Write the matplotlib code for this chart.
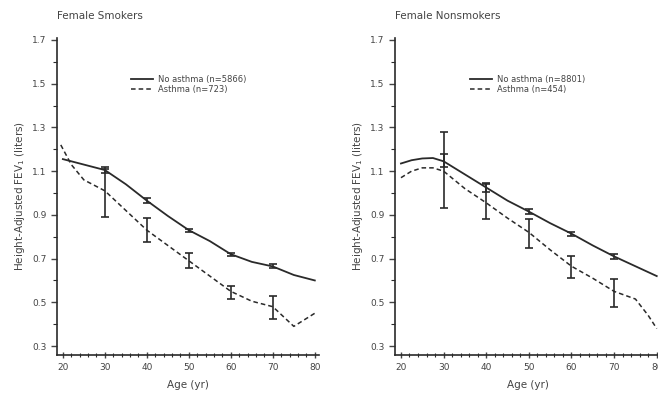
import numpy as np
import matplotlib
matplotlib.use("Agg")
import matplotlib.pyplot as plt
from matplotlib.ticker import MultipleLocator

# ── data ──────────────────────────────────────────────────────────────────
# Female smokers
SM_NO_AGE = [20, 25, 30, 35, 40, 45, 50, 55, 60, 65, 70, 75, 80]
SM_NO_FEV = [1.155, 1.13, 1.105, 1.04, 0.965, 0.895, 0.83, 0.78, 0.72, 0.685, 0.664, 0.625, 0.60]
SM_AS_AGE = [19.5, 22, 25, 28, 30, 35, 40, 45, 50, 55, 60, 65, 70, 75, 80]
SM_AS_FEV = [1.22, 1.13, 1.06, 1.03, 1.01, 0.92, 0.83, 0.76, 0.69, 0.62, 0.55, 0.505, 0.48, 0.39, 0.45]
SM_NO_ERR_LO = [1.09, 0.955, 0.82, 0.71, 0.655]
SM_NO_ERR_HI = [1.12, 0.975, 0.835, 0.725, 0.673]
SM_AS_ERR_LO = [0.89, 0.775, 0.655, 0.515, 0.425]
SM_AS_ERR_HI = [1.11, 0.885, 0.725, 0.575, 0.53]

# Female nonsmokers
NS_NO_AGE = [20, 22.5, 25, 27.5, 30, 35, 40, 45, 50, 55, 60, 65, 70, 75, 80]
NS_NO_FEV = [1.135, 1.15, 1.158, 1.16, 1.145, 1.085, 1.025, 0.965, 0.915, 0.862, 0.814, 0.76, 0.71, 0.665, 0.62]
NS_AS_AGE = [20, 22.5, 25, 27.5, 30, 35, 40, 45, 50, 55, 60, 65, 70, 75, 78, 80]
NS_AS_FEV = [1.07, 1.10, 1.115, 1.115, 1.10, 1.02, 0.955, 0.885, 0.82, 0.74, 0.665, 0.61, 0.55, 0.515, 0.44, 0.38]
NS_NO_ERR_LO = [1.12, 1.005, 0.905, 0.805, 0.70]
NS_NO_ERR_HI = [1.18, 1.045, 0.925, 0.822, 0.72]
NS_AS_ERR_LO = [0.93, 0.88, 0.75, 0.61, 0.48]
NS_AS_ERR_HI = [1.28, 1.04, 0.88, 0.71, 0.605]

ERR_AGE = [30, 40, 50, 60, 70]
Y_MAJOR = [0.3, 0.5, 0.7, 0.9, 1.1, 1.3, 1.5, 1.7]
Y_MINOR = [0.4, 0.6, 0.8, 1.0, 1.2, 1.4, 1.6]
TITLES = ["Female Smokers", "Female Nonsmokers"]
LEG_NO = ["No asthma (n=5866)", "No asthma (n=8801)"]
LEG_AS = ["Asthma (n=723)", "Asthma (n=454)"]

INK = "#2a2a2a"
TXT = "#444444"
plt.rcParams["font.family"] = ["DejaVu Sans"]

fig = plt.figure(figsize=(6.58, 3.96), dpi=100)
ax_l = fig.add_axes([57 / 658, 41 / 396, 262 / 658, 317 / 396])
ax_r = fig.add_axes([395 / 658, 41 / 396, 266 / 658, 317 / 396])

panels = [
    (ax_l, SM_NO_AGE, SM_NO_FEV, SM_AS_AGE, SM_AS_FEV, SM_NO_ERR_LO, SM_NO_ERR_HI, SM_AS_ERR_LO, SM_AS_ERR_HI),
    (ax_r, NS_NO_AGE, NS_NO_FEV, NS_AS_AGE, NS_AS_FEV, NS_NO_ERR_LO, NS_NO_ERR_HI, NS_AS_ERR_LO, NS_AS_ERR_HI),
]

for i, (ax, na, nf, aa, af, nlo, nhi, alo, ahi) in enumerate(panels):
    ax.plot(na, nf, "-", color=INK, lw=1.3, label=LEG_NO[i])
    ax.plot(aa, af, "--", color=INK, lw=1.1, dashes=(3, 2), label=LEG_AS[i])
    for lo, hi in ((nlo, nhi), (alo, ahi)):
        lo = np.array(lo); hi = np.array(hi)
        mid = (lo + hi) / 2
        ax.errorbar(ERR_AGE, mid, yerr=[mid - lo, hi - mid], fmt="none",
                    ecolor=INK, elinewidth=1.2, capsize=3, capthick=1.2)

    ax.set_xlim(18.6, 81)
    ax.set_ylim(0.259, 1.709)
    ax.xaxis.set_major_locator(MultipleLocator(10))
    ax.xaxis.set_minor_locator(MultipleLocator(2))
    ax.set_yticks(Y_MAJOR)
    ax.set_yticks(Y_MINOR, minor=True)
    ax.set_yticklabels([f"{v:.1f}" for v in Y_MAJOR])
    ax.tick_params(axis="x", which="major", direction="inout", length=5, width=1, colors=TXT, labelsize=6.5, pad=3)
    ax.tick_params(axis="x", which="minor", direction="inout", length=3, width=0.8, colors=INK)
    ax.tick_params(axis="y", which="major", direction="out", length=4, width=1, colors=TXT, labelsize=6.5)
    ax.tick_params(axis="y", which="minor", direction="out", length=3, width=0.8, colors=INK)
    for s in ("top", "right"):
        ax.spines[s].set_visible(False)
    for s in ("left", "bottom"):
        ax.spines[s].set_color(INK)
        ax.spines[s].set_linewidth(1.2)

    ax.set_xlabel("Age (yr)", fontsize=7.5, color=TXT, labelpad=6)
    ax.set_ylabel("Height-Adjusted FEV$_1$ (liters)", fontsize=7.5, color=TXT, labelpad=4)
    ax.text(0.0, 1.055, TITLES[i], transform=ax.transAxes, fontsize=7.5, color=TXT, ha="left", va="bottom")
    leg = ax.legend(loc="upper left", bbox_to_anchor=(0.27, 0.895), frameon=False, fontsize=6,
                    handlelength=2.6, handletextpad=0.6, labelspacing=0.2, borderaxespad=0)
    for t in leg.get_texts():
        t.set_color(TXT)

fig.savefig("out.png", dpi=100)
